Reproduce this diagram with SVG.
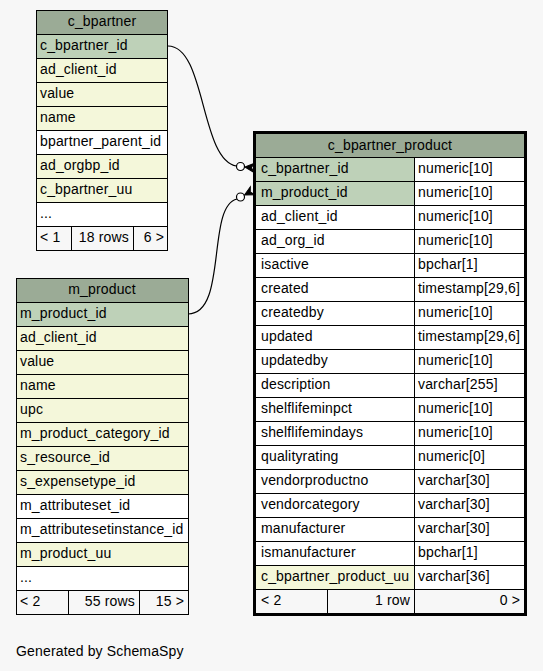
<svg xmlns="http://www.w3.org/2000/svg" width="543" height="671" viewBox="0 0 543 671">
<defs>
<style>
text{font-family:"Liberation Sans",Arial,Helvetica,sans-serif;font-size:14px;letter-spacing:0.16px;fill:#000}
.c{stroke:#000;stroke-width:1}
.h{fill:#9bab96}
.k{fill:#bed1b8}
.i{fill:#f4f7da}
.w{fill:#ffffff}
.f{fill:#f7f7f7}
.m{text-anchor:middle}
.r{text-anchor:end}
.e{fill:none;stroke:#000;stroke-width:1.2}
</style>
<path id="crow" d="M0,0 L9,-4.5 L6.5,0 L9,4.5 Z" fill="#000" stroke="#000" stroke-width="1"/>
</defs>
<rect x="0" y="0" width="543" height="671" fill="#f7f7f7"/>

<g id="c_bpartner">
<rect class="c h" x="36.5" y="10.5" width="131" height="24"/>
<text class="m" x="102" y="26">c_bpartner</text>
<rect class="c k" x="36.5" y="34.5" width="131" height="24"/>
<text x="40" y="50">c_bpartner_id</text>
<rect class="c i" x="36.5" y="58.5" width="131" height="24"/>
<text x="40" y="74">ad_client_id</text>
<rect class="c i" x="36.5" y="82.5" width="131" height="24"/>
<text x="40" y="98">value</text>
<rect class="c i" x="36.5" y="106.5" width="131" height="24"/>
<text x="40" y="122">name</text>
<rect class="c w" x="36.5" y="130.5" width="131" height="24"/>
<text x="40" y="146">bpartner_parent_id</text>
<rect class="c i" x="36.5" y="154.5" width="131" height="24"/>
<text x="40" y="170">ad_orgbp_id</text>
<rect class="c i" x="36.5" y="178.5" width="131" height="24"/>
<text x="40" y="194">c_bpartner_uu</text>
<rect class="c w" x="36.5" y="202.5" width="131" height="24"/>
<text x="40" y="218">...</text>
<rect class="c f" x="36.5" y="226.5" width="35" height="24"/>
<rect class="c f" x="71.5" y="226.5" width="62" height="24"/>
<rect class="c f" x="133.5" y="226.5" width="34" height="24"/>
<text x="40" y="242">&lt; 1</text>
<text class="r" x="129" y="242">18 rows</text>
<text class="r" x="164" y="242">6 &gt;</text>
<rect x="36.5" y="10.5" width="131" height="240" fill="none" stroke="#000"/>
</g>

<g id="m_product">
<rect class="c h" x="16.5" y="278.5" width="172" height="24"/>
<text class="m" x="102" y="294">m_product</text>
<rect class="c k" x="16.5" y="302.5" width="172" height="24"/>
<text x="20" y="318">m_product_id</text>
<rect class="c i" x="16.5" y="326.5" width="172" height="24"/>
<text x="20" y="342">ad_client_id</text>
<rect class="c i" x="16.5" y="350.5" width="172" height="24"/>
<text x="20" y="366">value</text>
<rect class="c i" x="16.5" y="374.5" width="172" height="24"/>
<text x="20" y="390">name</text>
<rect class="c i" x="16.5" y="398.5" width="172" height="24"/>
<text x="20" y="414">upc</text>
<rect class="c i" x="16.5" y="422.5" width="172" height="24"/>
<text x="20" y="438">m_product_category_id</text>
<rect class="c i" x="16.5" y="446.5" width="172" height="24"/>
<text x="20" y="462">s_resource_id</text>
<rect class="c i" x="16.5" y="470.5" width="172" height="24"/>
<text x="20" y="486">s_expensetype_id</text>
<rect class="c w" x="16.5" y="494.5" width="172" height="24"/>
<text x="20" y="510">m_attributeset_id</text>
<rect class="c w" x="16.5" y="518.5" width="172" height="24"/>
<text x="20" y="534">m_attributesetinstance_id</text>
<rect class="c i" x="16.5" y="542.5" width="172" height="24"/>
<text x="20" y="558">m_product_uu</text>
<rect class="c w" x="16.5" y="566.5" width="172" height="24"/>
<text x="20" y="582">...</text>
<rect class="c f" x="16.5" y="590.5" width="52" height="24"/>
<rect class="c f" x="68.5" y="590.5" width="71" height="24"/>
<rect class="c f" x="139.5" y="590.5" width="49" height="24"/>
<text x="20" y="606">&lt; 2</text>
<text class="r" x="135" y="606">55 rows</text>
<text class="r" x="184" y="606">15 &gt;</text>
<rect x="16.5" y="278.5" width="172" height="336" fill="none" stroke="#000"/>
</g>

<g id="c_bpartner_product">
<rect class="c h" x="255.5" y="133.5" width="269" height="24"/>
<text class="m" x="390" y="150">c_bpartner_product</text>
<g>
<rect class="c k" x="255.5" y="157.5" width="159" height="24"/><rect class="c w" x="414.5" y="157.5" width="110" height="24"/>
<text x="261" y="173">c_bpartner_id</text><text x="418" y="173">numeric[10]</text>
<rect class="c k" x="255.5" y="181.5" width="159" height="24"/><rect class="c w" x="414.5" y="181.5" width="110" height="24"/>
<text x="261" y="197">m_product_id</text><text x="418" y="197">numeric[10]</text>
<rect class="c w" x="255.5" y="205.5" width="159" height="24"/><rect class="c w" x="414.5" y="205.5" width="110" height="24"/>
<text x="261" y="221">ad_client_id</text><text x="418" y="221">numeric[10]</text>
<rect class="c w" x="255.5" y="229.5" width="159" height="24"/><rect class="c w" x="414.5" y="229.5" width="110" height="24"/>
<text x="261" y="245">ad_org_id</text><text x="418" y="245">numeric[10]</text>
<rect class="c w" x="255.5" y="253.5" width="159" height="24"/><rect class="c w" x="414.5" y="253.5" width="110" height="24"/>
<text x="261" y="269">isactive</text><text x="418" y="269">bpchar[1]</text>
<rect class="c w" x="255.5" y="277.5" width="159" height="24"/><rect class="c w" x="414.5" y="277.5" width="110" height="24"/>
<text x="261" y="293">created</text><text x="418" y="293">timestamp[29,6]</text>
<rect class="c w" x="255.5" y="301.5" width="159" height="24"/><rect class="c w" x="414.5" y="301.5" width="110" height="24"/>
<text x="261" y="317">createdby</text><text x="418" y="317">numeric[10]</text>
<rect class="c w" x="255.5" y="325.5" width="159" height="24"/><rect class="c w" x="414.5" y="325.5" width="110" height="24"/>
<text x="261" y="341">updated</text><text x="418" y="341">timestamp[29,6]</text>
<rect class="c w" x="255.5" y="349.5" width="159" height="24"/><rect class="c w" x="414.5" y="349.5" width="110" height="24"/>
<text x="261" y="365">updatedby</text><text x="418" y="365">numeric[10]</text>
<rect class="c w" x="255.5" y="373.5" width="159" height="24"/><rect class="c w" x="414.5" y="373.5" width="110" height="24"/>
<text x="261" y="389">description</text><text x="418" y="389">varchar[255]</text>
<rect class="c w" x="255.5" y="397.5" width="159" height="24"/><rect class="c w" x="414.5" y="397.5" width="110" height="24"/>
<text x="261" y="413">shelflifeminpct</text><text x="418" y="413">numeric[10]</text>
<rect class="c w" x="255.5" y="421.5" width="159" height="24"/><rect class="c w" x="414.5" y="421.5" width="110" height="24"/>
<text x="261" y="437">shelflifemindays</text><text x="418" y="437">numeric[10]</text>
<rect class="c w" x="255.5" y="445.5" width="159" height="24"/><rect class="c w" x="414.5" y="445.5" width="110" height="24"/>
<text x="261" y="461">qualityrating</text><text x="418" y="461">numeric[0]</text>
<rect class="c w" x="255.5" y="469.5" width="159" height="24"/><rect class="c w" x="414.5" y="469.5" width="110" height="24"/>
<text x="261" y="485">vendorproductno</text><text x="418" y="485">varchar[30]</text>
<rect class="c w" x="255.5" y="493.5" width="159" height="24"/><rect class="c w" x="414.5" y="493.5" width="110" height="24"/>
<text x="261" y="509">vendorcategory</text><text x="418" y="509">varchar[30]</text>
<rect class="c w" x="255.5" y="517.5" width="159" height="24"/><rect class="c w" x="414.5" y="517.5" width="110" height="24"/>
<text x="261" y="533">manufacturer</text><text x="418" y="533">varchar[30]</text>
<rect class="c w" x="255.5" y="541.5" width="159" height="24"/><rect class="c w" x="414.5" y="541.5" width="110" height="24"/>
<text x="261" y="557">ismanufacturer</text><text x="418" y="557">bpchar[1]</text>
<rect class="c i" x="255.5" y="565.5" width="159" height="24"/><rect class="c w" x="414.5" y="565.5" width="110" height="24"/>
<text x="261" y="581">c_bpartner_product_uu</text><text x="418" y="581">varchar[36]</text>
</g>
<rect class="c f" x="255.5" y="589.5" width="72" height="24"/>
<rect class="c f" x="327.5" y="589.5" width="87" height="24"/>
<rect class="c f" x="414.5" y="589.5" width="110" height="24"/>
<text x="261" y="605">&lt; 2</text>
<text class="r" x="410" y="605">1 row</text>
<text class="r" x="520" y="605">0 &gt;</text>
<rect x="254.5" y="132.5" width="271" height="482" fill="none" stroke="#000" stroke-width="3"/>
</g>

<g id="connectors">
<path class="e" d="M168,46 C206,46 200,160 236.5,166"/>
<circle cx="240.5" cy="166.5" r="4" fill="#fff" stroke="#000" stroke-width="1.2"/>
<use href="#crow" transform="translate(245,167) rotate(5)"/>
<path class="e" d="M188,314 C228,314 206,206 237,199"/>
<circle cx="240.5" cy="197" r="4" fill="#fff" stroke="#000" stroke-width="1.2"/>
<use href="#crow" transform="translate(244.5,195) rotate(-28)"/>
</g>

<text x="16" y="656">Generated by SchemaSpy</text>
</svg>
